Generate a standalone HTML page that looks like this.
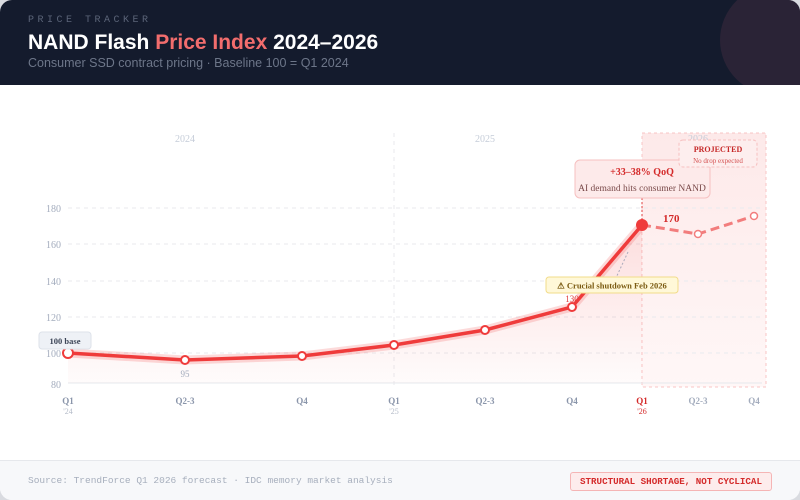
<!DOCTYPE html>
<html><head><meta charset="utf-8"><style>
body{margin:0;width:800px;height:500px;background:#d9dbe0;overflow:hidden;font-family:"Liberation Sans",sans-serif}
.card{position:absolute;left:0;top:0;width:800px;height:500px;border-radius:12px;overflow:hidden;background:#fff}
.hdr{position:absolute;left:0;top:0;width:800px;height:85px;background:#141b2d;overflow:hidden}
.circ{position:absolute;left:720px;top:-15px;width:110px;height:110px;border-radius:50%;background:#2a2336}
.k{position:absolute;left:28px;top:15px;font-family:"Liberation Mono",monospace;font-size:10px;letter-spacing:3.5px;color:#5b6478}
.t{position:absolute;left:28px;top:31px;font-size:21px;font-weight:bold;color:#fff}
.t span{color:#f26d6d}
.s{position:absolute;left:28px;top:56px;font-size:12.5px;color:#6d7689}
.ftr{position:absolute;left:0;top:460px;width:800px;height:40px;background:#f7f8fa;border-top:1px solid #e6e8ec}
.src{position:absolute;left:28px;top:14px;font-family:"Liberation Mono",monospace;font-size:9.5px;color:#a7afbd}
.tag{position:absolute;left:570px;top:11px;width:200px;height:17px;border:1px solid #f5b5b5;background:#fdecec;border-radius:3px;font-family:"Liberation Mono",monospace;font-size:9.2px;font-weight:bold;color:#d42a2a;text-align:center;line-height:17px}
</style></head><body><div class="card">
<div class="hdr"><div class="circ"></div><div class="k">PRICE TRACKER</div><div class="t">NAND Flash <span>Price Index</span> 2024–2026</div><div class="s">Consumer SSD contract pricing · Baseline 100 = Q1 2024</div></div>
<svg style="position:absolute;left:0;top:85px" width="800" height="375" viewBox="0 85 800 375" font-family="Liberation Serif,serif">
<defs><linearGradient id="g" x1="0" y1="0" x2="0" y2="1"><stop offset="0" stop-color="#f04444" stop-opacity=".18"/><stop offset="1" stop-color="#f04444" stop-opacity=".02"/></linearGradient>
<linearGradient id="p" x1="0" y1="0" x2="0" y2="1"><stop offset="0" stop-color="#fde9e9"/><stop offset="1" stop-color="#fff7f7"/></linearGradient></defs>
<rect x="642" y="133" width="124" height="254" fill="url(#p)" stroke="#f8c4c4" stroke-dasharray="3 3"/>
<g stroke="#e8eaee" stroke-dasharray="4 4"><line x1="68" y1="208" x2="762" y2="208"/><line x1="68" y1="244" x2="762" y2="244"/><line x1="68" y1="281" x2="762" y2="281"/><line x1="68" y1="317" x2="762" y2="317"/><line x1="68" y1="353" x2="762" y2="353"/><line x1="394" y1="133" x2="394" y2="385"/></g>
<line x1="68" y1="383" x2="762" y2="383" stroke="#e6e8ec"/>
<g fill="#a3acbd" font-size="10" text-anchor="end"><text x="61" y="212">180</text><text x="61" y="248">160</text><text x="61" y="285">140</text><text x="61" y="321">120</text><text x="61" y="357">100</text><text x="61" y="388">80</text></g>
<g fill="#c5ccd8" font-size="10" text-anchor="middle"><text x="185" y="142">2024</text><text x="485" y="142">2025</text><text x="698" y="142">2026</text></g>
<path d="M68 353L185 360L302 356L394 345L485 330L572 307L642 225L642 383L68 383Z" fill="url(#g)"/>
<polyline points="68,353 185,360 302,356 394,345 485,330 572,307 642,225" fill="none" stroke="#f04444" stroke-opacity=".2" stroke-width="9"/>
<polyline points="68,353 185,360 302,356 394,345 485,330 572,307 642,225" fill="none" stroke="#ef3b3b" stroke-width="3.5"/>
<polyline points="642,225 698,234 754,216" fill="none" stroke="#f27d7d" stroke-width="3" stroke-dasharray="9 5"/>
<line x1="642" y1="198" x2="642" y2="225" stroke="#e04040" stroke-dasharray="2 2"/>
<line x1="628" y1="252" x2="615" y2="280" stroke="#aab" stroke-dasharray="2 2"/>
<g fill="#fff" stroke="#ef3b3b" stroke-width="2"><circle cx="68" cy="353" r="5"/><circle cx="185" cy="360" r="4"/><circle cx="302" cy="356" r="4"/><circle cx="394" cy="345" r="4"/><circle cx="485" cy="330" r="4"/><circle cx="572" cy="307" r="4"/></g>
<g fill="#fff" stroke="#f27d7d" stroke-width="1.5"><circle cx="698" cy="234" r="3.5"/><circle cx="754" cy="216" r="3.5"/></g>
<circle cx="642" cy="225" r="6" fill="#ef3b3b"/>
<text x="185" y="377" font-size="9" fill="#a3acbd" text-anchor="middle">95</text>
<text x="572" y="302" font-size="9" fill="#e04040" text-anchor="middle">130</text>
<text x="663" y="222" font-size="11" font-weight="bold" fill="#d42a2a">170</text>
<rect x="39" y="332" width="52" height="17" rx="3" fill="#eef1f6" stroke="#dde2ea"/>
<text x="65" y="344" font-size="8.5" font-weight="bold" fill="#3b4456" text-anchor="middle">100 base</text>
<rect x="546" y="277" width="132" height="16" rx="3" fill="#fff8d8" stroke="#f2dc8a"/>
<text x="612" y="288.5" font-size="8.5" font-weight="bold" fill="#7a5a10" text-anchor="middle">⚠ Crucial shutdown Feb 2026</text>
<rect x="575" y="160" width="135" height="38" rx="5" fill="#fdeaea" stroke="#f6c0c0"/>
<text x="642" y="175" font-size="10" font-weight="bold" fill="#d42a2a" text-anchor="middle">+33–38% QoQ</text>
<text x="642" y="191" font-size="9.5" fill="#7a4a4a" text-anchor="middle">AI demand hits consumer NAND</text>
<rect x="679" y="140" width="78" height="27" rx="4" fill="#fdeeee" stroke="#f6c0c0" stroke-dasharray="3 2"/>
<text x="718" y="152" font-size="8" font-weight="bold" fill="#c62828" text-anchor="middle">PROJECTED</text>
<text x="718" y="163" font-size="7" fill="#d45050" text-anchor="middle">No drop expected</text>
<g font-size="9" font-weight="bold" fill="#8a95aa" text-anchor="middle"><text x="68" y="404">Q1</text><text x="185" y="404">Q2-3</text><text x="302" y="404">Q4</text><text x="394" y="404">Q1</text><text x="485" y="404">Q2-3</text><text x="572" y="404">Q4</text><text x="642" y="404" fill="#d42a2a">Q1</text><text x="698" y="404" fill="#a3acbd">Q2-3</text><text x="754" y="404" fill="#a3acbd">Q4</text></g>
<g font-size="8" fill="#b5bcc9" text-anchor="middle"><text x="68" y="414">'24</text><text x="394" y="414">'25</text><text x="642" y="414" fill="#d42a2a">'26</text></g>
</svg>
<div class="ftr"><div class="src">Source: TrendForce Q1 2026 forecast · IDC memory market analysis</div><div class="tag">STRUCTURAL SHORTAGE, NOT CYCLICAL</div></div>
</div></body></html>
